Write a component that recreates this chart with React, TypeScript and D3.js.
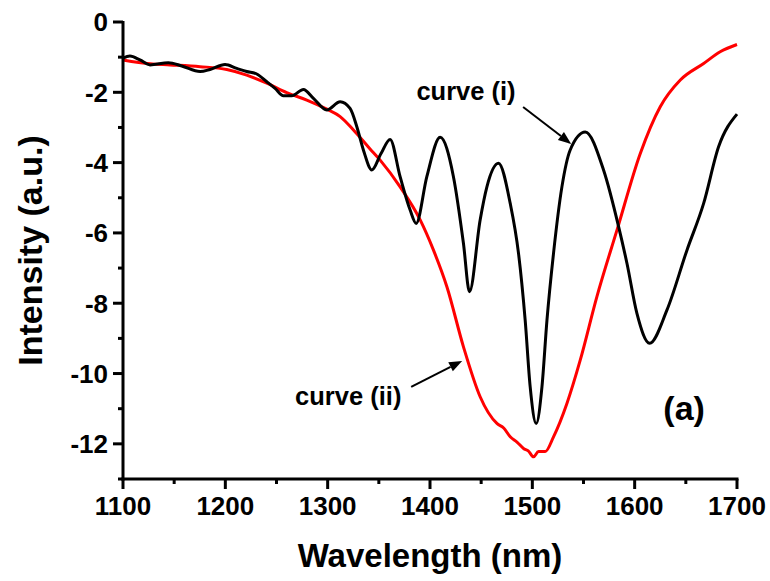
import React from "react";
import * as d3 from "d3";

// ---- data ----
const curveIWavelength = [
  1100, 1106.8, 1116.6, 1126.4, 1144.3, 1157.4, 1175.3, 1185.1, 1199.7, 1211.2,
  1220.9, 1230.7, 1240.5, 1248.6, 1256.7, 1264.9, 1276.3, 1286.1, 1299.2, 1312.2,
  1321.9, 1328.5, 1334.9, 1343.2, 1352.0, 1361.0, 1370.8, 1380.6, 1386.5, 1396.9,
  1409.9, 1422.9, 1432.7, 1438.6, 1449.0, 1455.6, 1466.9, 1478.4, 1486.5, 1493.0,
  1497.9, 1503.8, 1509.4, 1514.3, 1520.7, 1528.9, 1537.0, 1551.7, 1569.6, 1584.3,
  1592.5, 1602.2, 1614.6, 1631.6, 1651.1, 1667.4, 1682.0, 1700,
];
const curveIIntensity = [
  -1.03, -0.97, -1.08, -1.22, -1.16, -1.25, -1.41, -1.35, -1.21, -1.32,
  -1.41, -1.48, -1.70, -1.89, -2.10, -2.10, -1.92, -2.17, -2.50, -2.27,
  -2.46, -2.98, -3.64, -4.21, -3.75, -3.34, -4.40, -5.35, -5.73, -4.40,
  -3.28, -4.40, -6.30, -7.67, -5.63, -4.69, -4.02, -5.16, -6.58, -8.48,
  -10.38, -11.42, -10.38, -8.48, -6.58, -4.69, -3.64, -3.13, -4.21, -5.82,
  -6.87, -8.29, -9.14, -8.19, -6.49, -5.16, -3.55, -2.62,
];

const curveIIWavelength = [
  1100, 1126.4, 1146, 1175.3, 1201.4, 1220.9, 1240.5, 1260, 1279.6, 1299.2,
  1312.2, 1325.2, 1340.8, 1351.3, 1370.8, 1390.4, 1403.4, 1416.5, 1432.7, 1449,
  1465.4, 1472, 1478.4, 1485, 1491.4, 1496, 1501.2, 1506, 1512.6, 1520.7,
  1533.8, 1546.8, 1563.1, 1582.7, 1605.5, 1625, 1644.6, 1667.4, 1684, 1700,
];
const curveIIIntensity = [
  -1.08, -1.19, -1.22, -1.27, -1.35, -1.51, -1.74, -2.01, -2.22, -2.48,
  -2.69, -3.07, -3.59, -3.93, -4.69, -5.63, -6.49, -7.53, -9.24, -10.66,
  -11.42, -11.55, -11.8, -11.95, -12.13, -12.2, -12.37, -12.22, -12.22, -11.8,
  -10.85, -9.62, -7.81, -5.92, -3.74, -2.41, -1.65, -1.18, -0.84, -0.64,
];

const xMajorTicks = [1100, 1200, 1300, 1400, 1500, 1600, 1700];
const xMinorTicks = [1150, 1250, 1350, 1450, 1550, 1650];
const yMajorTicks = [0, -2, -4, -6, -8, -10, -12];
const yMinorTicks = [-1, -3, -5, -7, -9, -11, -13];

const xTitle = "Wavelength (nm)";
const yTitle = "Intensity (a.u.)";

// annotations: text position and arrow ends, in data units
const labelI = { text: "curve (i)", x: 1386.7, y: -2.22, from: [1491, -2.42], to: [1538, -3.47] };
const labelII = { text: "curve (ii)", x: 1268.2, y: -10.9, from: [1381.6, -10.38], to: [1431.4, -9.64] };
const panelLabel = { text: "(a)", x: 1628, y: -11.32 };

const W = 770;
const H = 581;
const left = 123;
const right = 737;
const top = 22;
const bottom = 479;

export default function App() {
  const x = d3.scaleLinear().domain([1100, 1700]).range([left, right]);
  const y = d3.scaleLinear().domain([-13, 0]).range([bottom, top]);

  const line = d3
    .line<[number, number]>()
    .x((d) => x(d[0]))
    .y((d) => y(d[1]))
    .curve(d3.curveMonotoneX);

  const dI = line(curveIWavelength.map((w, i) => [w, curveIIntensity[i]] as [number, number])) || "";
  const dII = line(curveIIWavelength.map((w, i) => [w, curveIIIntensity[i]] as [number, number])) || "";

  const font = "Arial, 'Liberation Sans', Helvetica, sans-serif";
  const axisW = 3;

  const arrow = (a: { from: number[]; to: number[] }, key: string) => {
    const x1 = x(a.from[0]);
    const y1 = y(a.from[1]);
    const x2 = x(a.to[0]);
    const y2 = y(a.to[1]);
    const ang = Math.atan2(y2 - y1, x2 - x1);
    const len = 13;
    const wid = 5;
    const bx = x2 - len * Math.cos(ang);
    const by = y2 - len * Math.sin(ang);
    const px = -Math.sin(ang) * wid;
    const py = Math.cos(ang) * wid;
    return (
      <g key={key}>
        <line x1={x1} y1={y1} x2={bx} y2={by} stroke="#000" strokeWidth={2} />
        <polygon points={`${x2},${y2} ${bx + px},${by + py} ${bx - px},${by - py}`} fill="#000" />
      </g>
    );
  };

  return (
    <svg
      width={W}
      height={H}
      style={{ position: "absolute", left: 0, top: 0, background: "#fff" }}
      fontFamily={font}
      fontWeight="bold"
    >
      <rect x={0} y={0} width={W} height={H} fill="#fff" />
      {/* curves */}
      <path d={dII} fill="none" stroke="#ff0000" strokeWidth={3} strokeLinejoin="round" />
      <path d={dI} fill="none" stroke="#000" strokeWidth={3} strokeLinejoin="round" />

      {/* axes */}
      <line x1={left} y1={top - 1} x2={left} y2={bottom + 1.5} stroke="#000" strokeWidth={axisW} />
      <line x1={left - 1.5} y1={bottom} x2={right + 1.5} y2={bottom} stroke="#000" strokeWidth={axisW} />

      {yMajorTicks.map((t) => (
        <g key={"ym" + t}>
          <line x1={left - 10} x2={left} y1={y(t)} y2={y(t)} stroke="#000" strokeWidth={axisW} />
          <text x={left - 15} y={y(t)} dy="0.36em" textAnchor="end" fontSize={26}>
            {t}
          </text>
        </g>
      ))}
      {yMinorTicks.map((t) => (
        <line key={"yn" + t} x1={left - 5} x2={left} y1={y(t)} y2={y(t)} stroke="#000" strokeWidth={axisW} />
      ))}
      {xMajorTicks.map((t) => (
        <g key={"xm" + t}>
          <line x1={x(t)} x2={x(t)} y1={bottom} y2={bottom + 10} stroke="#000" strokeWidth={axisW} />
          <text x={x(t)} y={515} textAnchor="middle" fontSize={26}>
            {t}
          </text>
        </g>
      ))}
      {xMinorTicks.map((t) => (
        <line key={"xn" + t} x1={x(t)} x2={x(t)} y1={bottom} y2={bottom + 5} stroke="#000" strokeWidth={axisW} />
      ))}

      {/* titles */}
      <text x={(left + right) / 2} y={567} textAnchor="middle" fontSize={33}>
        {xTitle}
      </text>
      <text
        transform={`translate(42, ${(top + bottom) / 2}) rotate(-90)`}
        textAnchor="middle"
        fontSize={34}
      >
        {yTitle}
      </text>

      {/* annotations */}
      <text x={x(labelI.x)} y={y(labelI.y)} fontSize={25.5}>
        {labelI.text}
      </text>
      {arrow(labelI, "a1")}
      <text x={x(labelII.x)} y={y(labelII.y)} fontSize={25.5}>
        {labelII.text}
      </text>
      {arrow(labelII, "a2")}
      <text x={x(panelLabel.x)} y={y(panelLabel.y)} fontSize={34}>
        {panelLabel.text}
      </text>
    </svg>
  );
}
